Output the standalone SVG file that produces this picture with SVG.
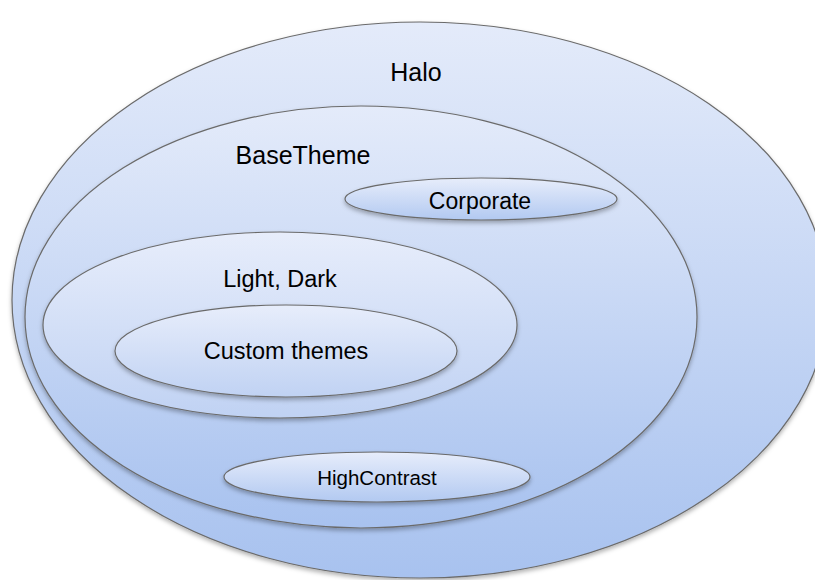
<svg xmlns="http://www.w3.org/2000/svg" width="815" height="580" viewBox="0 0 815 580">
<defs>
<linearGradient id="g" x1="0" y1="0" x2="0" y2="1">
<stop offset="0" stop-color="#e4ebfa"/>
<stop offset="1" stop-color="#a8c2ef"/>
</linearGradient>
<linearGradient id="g2" x1="0" y1="0" x2="0" y2="1">
<stop offset="0" stop-color="#e7edfb"/>
<stop offset="1" stop-color="#c0d2f3"/>
</linearGradient>
<linearGradient id="g3" x1="0" y1="0" x2="0" y2="1">
<stop offset="0" stop-color="#e7edfb"/>
<stop offset="1" stop-color="#b2c9f1"/>
</linearGradient>
<filter id="sh" x="-10%" y="-10%" width="120%" height="130%">
<feDropShadow dx="0" dy="2.5" stdDeviation="2" flood-color="#000" flood-opacity="0.3"/>
</filter>
</defs>
<style>
.e{fill:url(#g);stroke:#6b6b6b;stroke-width:1.2;filter:url(#sh)}
.l{fill:url(#g2)}
.m{fill:url(#g3)}
text{font-family:"Liberation Sans",Arial,sans-serif;fill:#000;text-anchor:middle}
</style>
<rect width="815" height="580" fill="#fff"/>
<g id="halo">
<ellipse class="e" cx="420" cy="300" rx="408" ry="278"/>
<text x="416" y="81" font-size="25">Halo</text>
</g>
<g id="basetheme">
<ellipse class="e" cx="361" cy="317" rx="336" ry="211"/>
<text x="303" y="164" font-size="25">BaseTheme</text>
</g>
<g id="corporate">
<ellipse class="e m" cx="481" cy="199" rx="136" ry="21"/>
<text x="480" y="209" font-size="23">Corporate</text>
</g>
<g id="lightdark">
<ellipse class="e l" cx="280" cy="325" rx="237" ry="93"/>
<text x="280" y="287" font-size="23.5">Light, Dark</text>
</g>
<g id="custom">
<ellipse class="e l" cx="286" cy="351" rx="171" ry="46"/>
<text x="286" y="359" font-size="23.5">Custom themes</text>
</g>
<g id="highcontrast">
<ellipse class="e m" cx="377" cy="477" rx="153" ry="25"/>
<text x="377" y="485" font-size="20.5">HighContrast</text>
</g>
<g id="connectors"/>
</svg>
